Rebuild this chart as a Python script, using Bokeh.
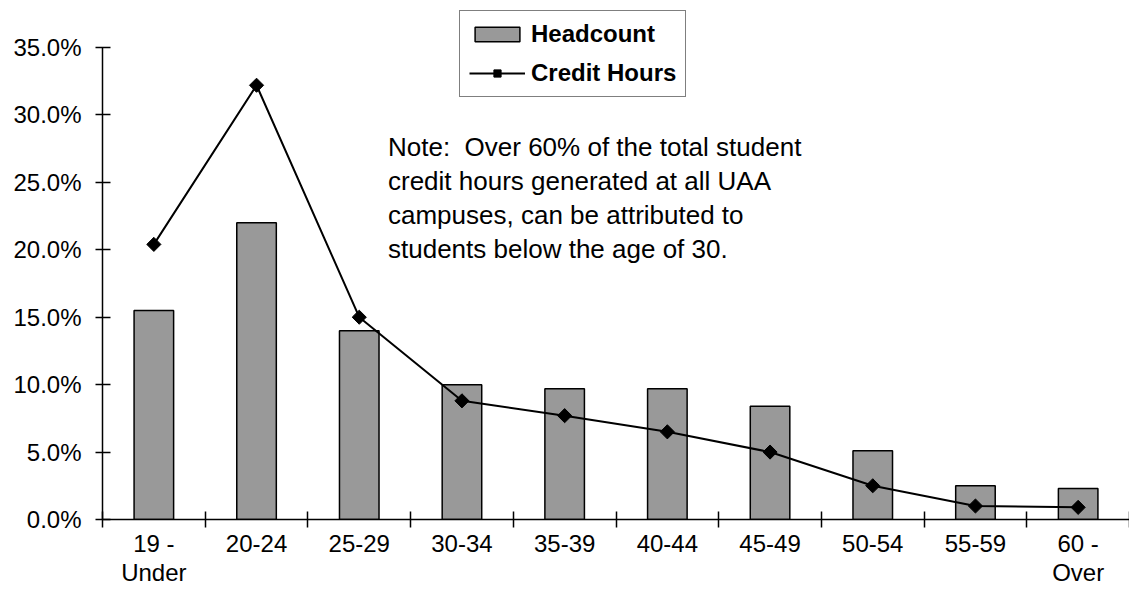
import numpy as np
from bokeh.plotting import figure
from bokeh.models import (Range1d, FixedTicker, PrintfTickFormatter, Legend,
                          LegendItem, Label, ColumnDataSource)
from bokeh.embed import file_html
from bokeh.resources import INLINE

# ---- data ----
CATEGORIES = ["19 -\nUnder", "20-24", "25-29", "30-34", "35-39",
              "40-44", "45-49", "50-54", "55-59", "60 -\nOver"]
HEADCOUNT = [15.5, 22.0, 14.0, 10.0, 9.7, 9.7, 8.4, 5.1, 2.5, 2.3]
CREDIT_HOURS = [20.4, 32.2, 15.0, 8.8, 7.7, 6.5, 5.0, 2.5, 1.0, 0.9]
Y_TICKS = [0, 5, 10, 15, 20, 25, 30, 35]
NOTE_LINES = ["Note:\u00a0 Over 60% of the total student",
              "credit hours generated at all UAA",
              "campuses, can be attributed to",
              "students below the age of 30."]

FONT = "Liberation Sans"
n = len(CATEGORIES)
centers = [i + 0.5 for i in range(n)]
src = ColumnDataSource(dict(x=centers, head=HEADCOUNT, credit=CREDIT_HOURS))

p = figure(width=1129, height=590, output_backend="svg", toolbar_location=None,
           x_range=Range1d(0, n), y_range=Range1d(0, 38.485),
           min_border_left=102, min_border_right=0, min_border_top=0,
           min_border_bottom=71)
p.outline_line_color = None
p.xgrid.visible = False
p.ygrid.visible = False
p.background_fill_color = "white"
p.border_fill_color = "white"

bars = p.vbar(x="x", top="head", width=0.385, bottom=0, source=src,
              fill_color="#999999", line_color="black", line_width=1.5)
line = p.line(x="x", y="credit", source=src, line_color="black", line_width=2)
marks = p.scatter(x="x", y="credit", source=src, marker="square", angle=np.pi / 4,
                  size=10, fill_color="black", line_color="black")

# x axis: labels at centers, ticks at category boundaries
xa = p.xaxis[0]
xa.ticker = FixedTicker(ticks=centers, minor_ticks=list(range(n + 1)))
xa.major_label_overrides = {c: lab for c, lab in zip(centers, CATEGORIES)}
xa.major_tick_in = 0
xa.major_tick_out = 0
xa.minor_tick_in = 8
xa.minor_tick_out = 8
xa.minor_tick_line_color = "black"
xa.minor_tick_line_width = 1.5
xa.axis_line_color = "black"
xa.axis_line_width = 1.5
xa.major_label_text_font = FONT
xa.major_label_text_font_size = "24px"
xa.major_label_text_color = "black"
xa.major_label_standoff = 2
xa.major_label_text_line_height = 1.1
xa.bounds = (0, n)

ya = p.yaxis[0]
ya.ticker = FixedTicker(ticks=Y_TICKS, minor_ticks=[])
ya.formatter = PrintfTickFormatter(format="%.1f%%")
ya.major_tick_in = 8
ya.major_tick_out = 7
ya.major_tick_line_color = "black"
ya.major_tick_line_width = 1.5
ya.minor_tick_line_color = None
ya.axis_line_color = "black"
ya.axis_line_width = 1.5
ya.major_label_text_font = FONT
ya.major_label_text_font_size = "24px"
ya.major_label_text_color = "black"
ya.major_label_standoff = 14
ya.bounds = (0, 35)

note = Label(x=2.78, y=28.75, text="\n".join(NOTE_LINES), text_font=FONT,
             text_font_size="26px", text_baseline="top", text_align="left",
             text_line_height=1.14, text_color="black")
p.add_layout(note)

legend = Legend(items=[LegendItem(label="Headcount", renderers=[bars]),
                       LegendItem(label="Credit Hours", renderers=[line, marks])],
                location=(357, 422), orientation="vertical")
legend.label_text_font = FONT
legend.label_text_font_size = "24px"
legend.label_text_font_style = "bold"
legend.label_text_color = "black"
legend.glyph_width = 56
legend.glyph_height = 18
legend.label_standoff = 6
legend.padding = 9
legend.spacing = 11
legend.margin = 0
legend.border_line_color = "black"
legend.border_line_width = 1.5
legend.background_fill_color = "white"
legend.background_fill_alpha = 1.0
p.add_layout(legend)

open("out.html", "w").write(file_html(p, INLINE))
